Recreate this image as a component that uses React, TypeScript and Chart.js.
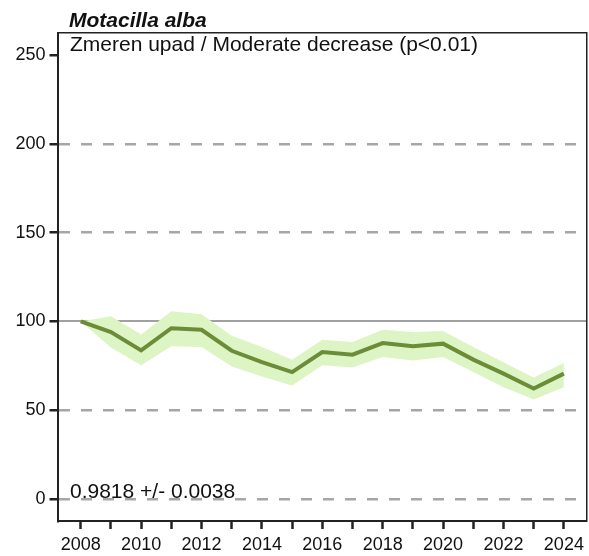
import React, { useEffect, useRef } from "react";
import { Chart, registerables } from "chart.js";

Chart.register(...registerables);

const years = [2008, 2009, 2010, 2011, 2012, 2013, 2014, 2015, 2016, 2017, 2018, 2019, 2020, 2021, 2022, 2023, 2024];
const indexValues = [100, 94, 83.7, 96.2, 95.3, 83.5, 77.1, 71.5, 82.8, 81.3, 87.8, 86, 87.5, 78.5, 70.6, 62.2, 70.6];
const upperCI = [100, 103, 92.7, 105.8, 104, 92, 85.6, 78.5, 89.7, 88.4, 95.3, 94, 94.6, 85.6, 77, 68.4, 76.6];
const lowerCI = [100, 85.4, 75.3, 86, 85.6, 74.7, 69, 64, 75.3, 74, 80, 78, 80, 71.5, 63, 56, 63];
const yTicks = [0, 50, 100, 150, 200, 250];
const referenceLevel = [100];
const speciesName = "Motacilla alba";
const trendText = "Zmeren upad / Moderate decrease (p<0.01)";
const slopeText = "0.9818 +/- 0.0038";

const FONT = "'Liberation Sans', Arial, sans-serif";

export default function App() {
  const ref = useRef<HTMLCanvasElement | null>(null);

  useEffect(() => {
    const canvas = ref.current;
    if (!canvas) return;

    const textPlugin = {
      id: "texts",
      afterDraw(chart: any) {
        const ctx = chart.ctx;
        const area = chart.chartArea;
        const y = chart.scales.y;
        ctx.save();
        ctx.fillStyle = "#111";
        ctx.textAlign = "left";
        ctx.textBaseline = "alphabetic";
        ctx.font = `italic bold 21px ${FONT}`;
        ctx.fillText(speciesName, 69, 27);
        ctx.font = `21px ${FONT}`;
        ctx.fillText(trendText, area.left + 12.5, area.top + 18);
        ctx.fillText(slopeText, area.left + 12.5, y.getPixelForValue(0) - 1);
        ctx.restore();
      },
    };

    const chart = new Chart(canvas, {
      type: "line",
      data: {
        datasets: [
          {
            label: "upper",
            data: years.map((x, i) => ({ x, y: upperCI[i] })),
            borderWidth: 0,
            borderColor: "rgba(0,0,0,0)",
            backgroundColor: "#ddf5c4",
            pointRadius: 0,
            fill: "+1",
            tension: 0,
            order: 3,
          },
          {
            label: "lower",
            data: years.map((x, i) => ({ x, y: lowerCI[i] })),
            borderWidth: 0,
            borderColor: "rgba(0,0,0,0)",
            backgroundColor: "#ddf5c4",
            pointRadius: 0,
            fill: false,
            tension: 0,
            order: 2,
          },
          {
            label: "index",
            data: years.map((x, i) => ({ x, y: indexValues[i] })),
            borderWidth: 4,
            borderColor: "#6b8d37",
            pointRadius: 0,
            fill: false,
            tension: 0,
            order: 1,
          },
        ],
      },
      options: {
        responsive: false,
        animation: false,
        events: [],
        layout: { padding: { left: 0, top: 33, right: 2, bottom: 0 } },
        plugins: {
          legend: { display: false },
          tooltip: { enabled: false },
          title: { display: false },
        },
        scales: {
          x: {
            type: "linear",
            position: "bottom",
            min: 2007.23,
            max: 2024.76,
            afterBuildTicks: (s: any) => {
              s.ticks = years.map((v) => ({ value: v }));
            },
            afterFit: (s: any) => {
              s.height = 35;
            },
            ticks: {
              autoSkip: false,
              maxRotation: 0,
              minRotation: 0,
              padding: 5,
              color: "#111",
              font: { family: FONT, size: 18 },
              callback: (v: any) => (Number(v) % 2 === 0 ? String(v) : ""),
            },
            grid: {
              drawOnChartArea: false,
              drawTicks: true,
              tickLength: 8,
              tickWidth: 2.5,
              tickColor: "#222",
            },
            border: { display: true, color: "#222", width: 2 },
          },
          xTop: {
            type: "linear",
            position: "top",
            min: 2007.23,
            max: 2024.76,
            afterFit: (s: any) => {
              s.height = 0;
            },
            ticks: { display: false },
            grid: { display: false, drawTicks: false },
            border: { display: true, color: "#222", width: 1.5 },
          },
          y: {
            type: "linear",
            position: "left",
            min: -12.4,
            max: 262.5,
            afterBuildTicks: (s: any) => {
              s.ticks = yTicks.map((v) => ({ value: v }));
            },
            afterFit: (s: any) => {
              s.width = 57.5;
            },
            ticks: {
              padding: 4,
              color: "#111",
              font: { family: FONT, size: 18 },
              callback: (v: any) => String(v),
            },
            grid: {
              drawOnChartArea: true,
              drawTicks: true,
              tickLength: 8,
              tickWidth: 2.5,
              tickColor: "#222",
              tickBorderDash: [],
              lineWidth: 2.5,
              color: (c: any) =>
                c.tick && (c.tick.value === 100 || c.tick.value === 250) ? "rgba(0,0,0,0)" : "#a6a6a6",
            },
            border: { display: true, color: "#222", width: 2, dash: [11, 11] },
          },
          yRef: {
            type: "linear",
            position: "right",
            min: -12.4,
            max: 262.5,
            z: 1,
            afterBuildTicks: (s: any) => {
              s.ticks = referenceLevel.map((v) => ({ value: v }));
            },
            afterFit: (s: any) => {
              s.width = 0;
            },
            ticks: { display: false },
            grid: {
              drawOnChartArea: true,
              drawTicks: false,
              lineWidth: 2,
              color: "#a0a0a0",
            },
            border: { display: true, color: "#222", width: 1.5 },
          },
        },
      },
      plugins: [textPlugin],
    });

    return () => chart.destroy();
  }, []);

  return (
    <div style={{ position: "fixed", left: 0, top: 0, width: 589, height: 556, background: "#fff" }}>
      <canvas ref={ref} width={589} height={556} style={{ display: "block", width: 589, height: 556 }} />
    </div>
  );
}
